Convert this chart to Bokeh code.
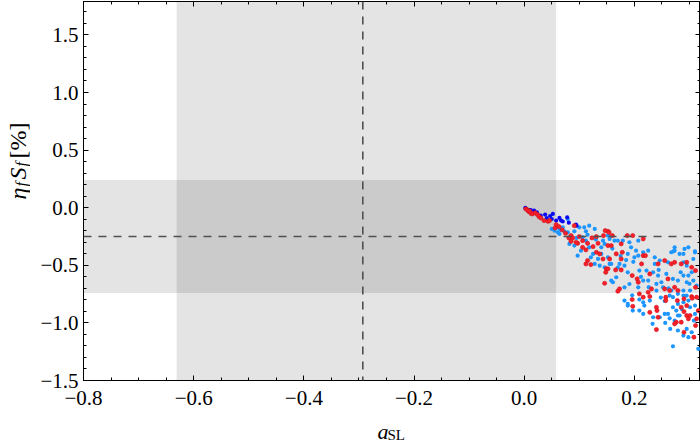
import math
from bokeh.plotting import figure
from bokeh.layouts import row, column
from bokeh.models import (BoxAnnotation, Span, Label, LinearAxis, SingleIntervalTicker,
                          CustomJSTickFormatter, Range1d)
from bokeh.embed import file_html
from bokeh.resources import INLINE

# ---------------- data ----------------
x_limits = (-0.8, 0.32)
y_limits = (-1.5, 1.79)

# experimental bands: a_SL and eta_f S_f
asl_center, asl_lo, asl_hi = -0.293, -0.631, 0.058
s_center, s_lo, s_hi = -0.25, -0.74, 0.24

darkblue_x = [0.002, 0.009, 0.018, 0.023, 0.030, 0.038, 0.047, 0.050, 0.052, 0.064,
              0.067, 0.078, 0.081, 0.094, 0.095, 0.004, 0.012, 0.041, 0.058, 0.070]
darkblue_y = [-0.002, -0.020, -0.026, -0.040, -0.069, -0.060, -0.072, -0.098, -0.054, -0.089,
              -0.112, -0.084, -0.130, -0.147, -0.156, -0.010, -0.020, -0.090, -0.112, -0.120]

lightblue_x = [0.050, 0.055, 0.061, 0.064, 0.067, 0.070, 0.073, 0.079, 0.091, 0.100,
               0.109, 0.112, 0.118, 0.128, 0.095, 0.082, 0.091, 0.106, 0.112, 0.103,
               0.118, 0.125, 0.134, 0.097, 0.137, 0.128, 0.121, 0.140, 0.146, 0.143,
               0.152, 0.155, 0.158, 0.058, 0.064, 0.079,
               0.152, 0.155, 0.170, 0.179, 0.191, 0.207, 0.194, 0.203, 0.188, 0.273,
               0.289, 0.298, 0.310, 0.237, 0.246, 0.261, 0.289, 0.295, 0.158, 0.173,
               0.182, 0.188, 0.209, 0.222, 0.234, 0.243, 0.216, 0.225, 0.240, 0.249,
               0.270, 0.279, 0.289, 0.298, 0.295, 0.307, 0.313, 0.167, 0.161, 0.258,
               0.207, 0.191, 0.240, 0.289, 0.301, 0.289, 0.264,
               0.182, 0.188, 0.209, 0.216, 0.209, 0.216, 0.233, 0.246, 0.255, 0.264,
               0.270, 0.276, 0.279, 0.289, 0.298, 0.282, 0.295, 0.289, 0.298, 0.304,
               0.308, 0.310, 0.270, 0.316, 0.270, 0.261, 0.265, 0.279, 0.310,
               0.200, 0.207, 0.216, 0.225, 0.237, 0.267, 0.282, 0.291, 0.307, 0.234,
               0.279, 0.273, 0.301, 0.228, 0.252, 0.267, 0.279, 0.295, 0.188, 0.197,
               0.182, 0.146, 0.164, 0.140, 0.271, 0.273, 0.310,
               0.115, 0.130, 0.160, 0.175, 0.185, 0.198, 0.212, 0.226, 0.244, 0.255,
               0.262, 0.284, 0.300, 0.256, 0.286, 0.248, 0.218, 0.196, 0.170, 0.304]
lightblue_y = [-0.184, -0.199, -0.214, -0.228, -0.193, -0.170, -0.205, -0.214, -0.205, -0.170,
               -0.170, -0.205, -0.156, -0.184, -0.262, -0.314, -0.329, -0.257, -0.286, -0.373,
               -0.344, -0.401, -0.445, -0.416, -0.503, -0.488, -0.431, -0.344, -0.314, -0.286,
               -0.431, -0.488, -0.633, -0.170, -0.184, -0.098,
               -0.242, -0.271, -0.286, -0.286, -0.300, -0.286, -0.344, -0.373, -0.401, -0.373,
               -0.401, -0.344, -0.387, -0.431, -0.459, -0.474, -0.474, -0.503, -0.488, -0.488,
               -0.503, -0.561, -0.546, -0.546, -0.561, -0.589, -0.633, -0.633, -0.662, -0.647,
               -0.618, -0.633, -0.589, -0.589, -0.647, -0.633, -0.676, -0.604, -0.647, -0.575,
               -0.691, -0.662, -0.719, -0.719, -0.719, -0.763, -0.763,
               -0.806, -0.850, -0.893, -0.922, -0.797, -0.821, -1.008, -0.951, -0.922, -0.960,
               -0.864, -0.893, -0.835, -0.821, -0.806, -0.936, -1.052, -1.110, -1.124, -1.081,
               -0.980, -0.922, -1.203, -1.225, -0.777, -0.922, -1.052, -1.066, -0.850,
               -0.431, -0.416, -0.387, -0.373, -0.488, -0.387, -0.401, -0.358, -0.445, -0.951,
               -0.936, -0.979, -0.864, -0.806, -0.691, -0.719, -0.748, -0.763, -0.835, -0.893,
               -0.691, -0.517, -0.286, -0.401, -0.379, -0.344, -0.379,
               -0.235, -0.275, -0.355, -0.420, -0.455, -0.470, -0.600, -0.690, -0.540, -0.810,
               -0.700, -0.560, -0.660, -1.000, -0.880, -0.780, -0.850, -0.760, -0.520, -0.560]

red_x = [0.003, 0.008, 0.012, 0.015, 0.006, 0.010, 0.020, 0.024, 0.027, 0.030,
         0.036, 0.043, 0.046, 0.058, 0.063, 0.056, 0.069, 0.075, 0.085, 0.088,
         0.081, 0.091, 0.100, 0.097, 0.106, 0.112, 0.115, 0.121, 0.112, 0.123,
         0.131, 0.134, 0.131, 0.137, 0.143, 0.149, 0.148, 0.146, 0.152, 0.144,
         0.152, 0.094, 0.085, 0.106, 0.115, 0.125, 0.147,
         0.154, 0.160, 0.187, 0.197, 0.216, 0.158, 0.176, 0.167, 0.178, 0.155,
         0.176, 0.152, 0.166, 0.176, 0.196, 0.205, 0.207, 0.216, 0.220, 0.213,
         0.228, 0.243, 0.255, 0.267, 0.273, 0.261, 0.255, 0.264, 0.273, 0.279,
         0.285, 0.295, 0.304, 0.311, 0.231, 0.225, 0.173, 0.170, 0.209, 0.304,
         0.313, 0.311,
         0.196, 0.197, 0.216, 0.228, 0.228, 0.240, 0.241, 0.243, 0.240, 0.257,
         0.257, 0.278, 0.290, 0.305, 0.285, 0.295, 0.290, 0.295, 0.301, 0.298,
         0.276, 0.285, 0.273, 0.290, 0.308, 0.311, 0.313, 0.316]
red_y = [-0.011, -0.032, -0.049, -0.054, -0.020, -0.030, -0.045, -0.060, -0.078, -0.089,
         -0.112, -0.118, -0.112, -0.147, -0.164, -0.176, -0.193, -0.222, -0.242, -0.262,
         -0.262, -0.156, -0.251, -0.309, -0.344, -0.366, -0.459, -0.494, -0.488, -0.262,
         -0.251, -0.309, -0.387, -0.401, -0.445, -0.531, -0.561, -0.656, -0.205, -0.242,
         -0.329, -0.300, -0.292, -0.286, -0.309, -0.338, -0.199,
         -0.214, -0.242, -0.242, -0.242, -0.271, -0.329, -0.314, -0.401, -0.387, -0.445,
         -0.445, -0.531, -0.540, -0.540, -0.589, -0.618, -0.647, -0.416, -0.416, -0.488,
         -0.575, -0.488, -0.459, -0.488, -0.474, -0.618, -0.705, -0.719, -0.691, -0.719,
         -0.488, -0.474, -0.517, -0.546, -0.705, -0.734, -0.705, -0.725, -0.748, -0.771,
         -0.777, -0.691,
         -0.797, -0.856, -0.777, -0.771, -0.908, -0.864, -0.893, -0.951, -1.058, -0.777,
         -0.806, -0.806, -0.791, -0.786, -0.864, -0.850, -0.902, -0.936, -0.936, -0.965,
         -0.994, -0.994, -1.008, -1.081, -1.124, -1.023, -0.965, -0.893]

SERIF = "Liberation Serif"
YLAB_W = 30
MAIN_W, MAIN_H = 670, 414
XLAB_W, XLAB_H = 700, 31

# ---------------- main figure ----------------
p = figure(width=MAIN_W, height=MAIN_H, output_backend="svg", toolbar_location=None,
           x_range=Range1d(*x_limits), y_range=Range1d(*y_limits),
           min_border_left=53, min_border_right=0, min_border_top=1, min_border_bottom=34,
           x_axis_location=None, y_axis_location=None)
p.background_fill_color = "white"
p.border_fill_color = "white"
p.outline_line_color = "black"
p.outline_line_width = 1
p.xgrid.visible = False
p.ygrid.visible = False

minus_fmt = CustomJSTickFormatter(code="return tick.toFixed(1).replace('-', '\u2212');")
blank_fmt = CustomJSTickFormatter(code="return '';")


def make_axis(ticker, fmt, show_labels, standoff=6):
    ax = LinearAxis(ticker=ticker, formatter=fmt)
    ax.axis_line_color = "black"
    ax.major_tick_line_color = "black"
    ax.minor_tick_line_color = "black"
    ax.major_tick_in = 5
    ax.major_tick_out = 0
    ax.minor_tick_in = 3
    ax.minor_tick_out = 0
    ax.major_label_text_font = SERIF
    ax.major_label_text_color = "black"
    if show_labels:
        ax.major_label_text_font_size = "21px"
        ax.major_label_standoff = standoff
    else:
        ax.major_label_text_font_size = "1px"
        ax.major_label_standoff = 0
    return ax


xt = dict(interval=0.2, num_minor_ticks=4)
yt = dict(interval=0.5, num_minor_ticks=5)
p.add_layout(make_axis(SingleIntervalTicker(**xt), minus_fmt, True, 10), "below")
p.add_layout(make_axis(SingleIntervalTicker(**yt), minus_fmt, True, 5), "left")
p.add_layout(make_axis(SingleIntervalTicker(**xt), blank_fmt, False), "above")
p.add_layout(make_axis(SingleIntervalTicker(**yt), blank_fmt, False), "right")

# bands
p.add_layout(BoxAnnotation(left=asl_lo, right=asl_hi, fill_color="black", fill_alpha=0.107,
                           line_alpha=0, level="underlay"))
p.add_layout(BoxAnnotation(bottom=s_lo, top=s_hi, fill_color="black", fill_alpha=0.107,
                           line_alpha=0, level="underlay"))

# points
p.scatter(lightblue_x, lightblue_y, size=4.2, color="#1E96FF", line_width=0)
p.scatter(darkblue_x, darkblue_y, size=4.2, color="#0A0AF5", line_width=0)
p.scatter(red_x, red_y, size=4.2, fill_color="#F8202A", line_color="#D0101A", line_width=0.6)

# dashed central values
p.add_layout(Span(location=asl_center, dimension="height", line_color="#505050",
                  line_width=1.6, line_dash="8 7"))
p.add_layout(Span(location=s_center, dimension="width", line_color="#505050",
                  line_width=1.6, line_dash="8 7"))


# ---------------- axis-title strips ----------------
def strip(w, h):
    f = figure(width=w, height=h, output_backend="svg", toolbar_location=None, title=None,
               x_range=Range1d(0, 1), y_range=Range1d(0, 1), min_border=0,
               min_border_left=0, min_border_right=0, min_border_top=0, min_border_bottom=0,
               x_axis_location=None, y_axis_location=None)
    f.outline_line_color = None
    f.xgrid.visible = False
    f.ygrid.visible = False
    f.background_fill_color = "white"
    f.border_fill_color = "white"
    return f


def lab(fig, text, x, y, size, style="normal", angle=0.0, baseline="alphabetic"):
    fig.add_layout(Label(x=x, y=y, x_units="screen", y_units="screen", text=text,
                         text_font=SERIF, text_font_size=size, text_font_style=style,
                         text_color="black", angle=angle, text_align="left",
                         text_baseline=baseline))


ylab = strip(YLAB_W, MAIN_H)
r = math.pi / 2
lab(ylab, "\u03b7", 17, MAIN_H - 233, "24px", "italic", r)
lab(ylab, "f", 21, MAIN_H - 220, "16px", "italic", r)
lab(ylab, "S", 17, MAIN_H - 213, "24px", "italic", r)
lab(ylab, "f", 21, MAIN_H - 200, "16px", "italic", r)
lab(ylab, "[%]", 17, MAIN_H - 192, "24px", "normal", r)

xlab = strip(XLAB_W, XLAB_H)
# text centred vertically in the strip below the main plot
lab(xlab, "a", 377, XLAB_H / 2 - 1, "22px", "italic", baseline="middle")
lab(xlab, "SL", 387, XLAB_H / 2 - 5, "15px", baseline="middle")

layout = column(row(ylab, p), xlab)
open("out.html", "w").write(file_html(layout, INLINE))
